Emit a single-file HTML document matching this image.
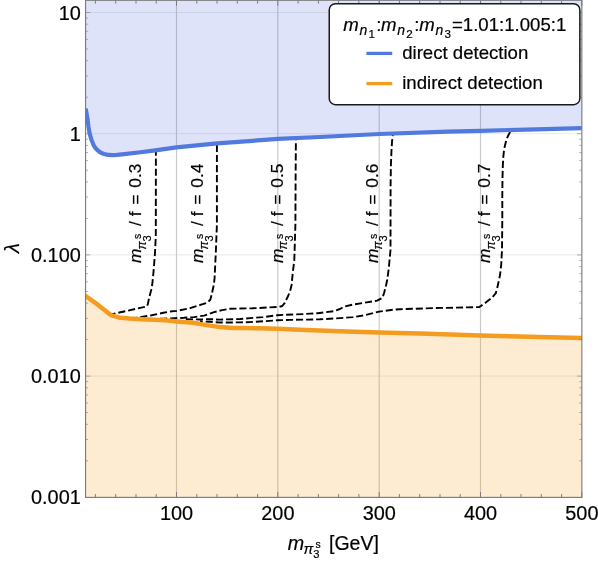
<!DOCTYPE html>
<html><head><meta charset="utf-8"><title>plot</title>
<style>html,body{margin:0;padding:0;background:#fff;}body{width:598px;height:564px;overflow:hidden;font-family:"Liberation Sans",sans-serif;}</style>
</head><body>
<svg width="598" height="564" viewBox="0 0 598 564" style="display:block;will-change:transform;transform:translateZ(0)">
<rect width="598" height="564" fill="#fff"/>
<defs><clipPath id="cp"><rect x="85.55" y="0.3" width="496.30" height="497.10"/></clipPath></defs>
<g clip-path="url(#cp)">
<line x1="85.55" x2="581.85" y1="12.5" y2="12.5" stroke="#e9e9e9" stroke-width="1"/>
<line x1="85.55" x2="581.85" y1="133.7" y2="133.7" stroke="#e9e9e9" stroke-width="1"/>
<line x1="85.55" x2="581.85" y1="254.9" y2="254.9" stroke="#e9e9e9" stroke-width="1"/>
<line x1="85.55" x2="581.85" y1="376.1" y2="376.1" stroke="#e9e9e9" stroke-width="1"/>
<line x1="176.5" x2="176.5" y1="0.3" y2="497.4" stroke="#c9c9c9" stroke-width="1.2"/>
<line x1="277.8" x2="277.8" y1="0.3" y2="497.4" stroke="#c9c9c9" stroke-width="1.2"/>
<line x1="379.2" x2="379.2" y1="0.3" y2="497.4" stroke="#c9c9c9" stroke-width="1.2"/>
<line x1="480.5" x2="480.5" y1="0.3" y2="497.4" stroke="#c9c9c9" stroke-width="1.2"/>
<path d="M85.7,108.7 L87.5,118.9 L88.5,126.8 L89.7,133.8 L91.4,139.7 L93.9,145.7 L95.3,147.8 L96.9,149.7 L99.2,151.6 L101.9,153.2 L104.2,154.0 L106.8,154.6 L111.8,155.2 L116.8,154.9 L122.0,154.4 L138.5,152.5 L155.3,150.3 L176.4,147.4 L217.2,143.4 L277.9,138.9 L320.0,137.0 L379.7,134.0 L448.0,131.7 L480.6,130.8 L582.9,128.0 L581.85,0.3 L85.55,0.3 Z" fill="#5a73e1" fill-opacity="0.2"/>
<path d="M85.0,295.6 L97.4,304.4 L110.8,315.1 L118.8,317.4 L129.5,318.6 L141.5,319.3 L155.0,319.8 L165.0,320.3 L176.8,321.4 L193.4,322.7 L206.8,325.1 L220.1,327.1 L233.5,328.0 L245.0,328.1 L260.0,328.2 L277.4,328.8 L300.1,329.8 L320.0,330.6 L340.0,331.3 L379.5,332.5 L420.0,333.6 L480.3,335.5 L582.9,338.0 L581.85,497.4 L85.55,497.4 Z" fill="#f39c1f" fill-opacity="0.2"/>
<path d="M155.9,151.5 L155.8,236.0 L154.9,254.5 L153.5,272.0 L152.2,285.0 L151.2,290.0 L149.1,298.0 L147.9,303.8 L147.0,306.4 L128.1,310.6 L112.0,314.1" fill="none" stroke="#000" stroke-width="1.9" stroke-dasharray="7.1 2.95" stroke-dashoffset="2.95" stroke-linejoin="round"/>
<path d="M216.9,144.5 L216.9,225.0 L215.9,250.3 L214.6,278.0 L213.8,285.0 L213.1,288.0 L211.6,295.0 L210.3,299.8 L207.1,302.7 L201.1,304.7 L190.1,308.2 L176.8,310.9 L172.0,311.3 L163.4,312.8 L151.7,315.2 L140.0,317.2 L133.0,318.2" fill="none" stroke="#000" stroke-width="1.9" stroke-dasharray="7.1 2.95" stroke-dashoffset="9.6" stroke-linejoin="round"/>
<path d="M295.9,139.0 L295.6,180.0 L295.4,225.0 L294.3,260.0 L292.7,273.3 L291.6,285.0 L290.1,291.0 L288.1,296.0 L284.6,303.1 L282.3,306.0 L279.1,306.9 L252.5,308.3 L236.0,308.6 L230.0,308.8 L222.2,310.1 L214.1,312.1 L204.1,315.6 L194.1,317.1 L184.0,317.8 L175.0,318.1 L163.4,318.7 L150.0,319.0" fill="none" stroke="#000" stroke-width="1.9" stroke-dasharray="7.1 2.95" stroke-dashoffset="5.75" stroke-linejoin="round"/>
<path d="M392.8,134.5 L392.0,142.0 L391.5,150.0 L390.9,165.0 L390.6,185.0 L390.5,250.0 L388.8,268.0 L387.2,280.0 L386.1,285.0 L384.1,293.0 L382.4,297.8 L377.1,300.6 L353.0,304.6 L344.0,306.6 L340.0,309.0 L333.4,311.2 L318.0,313.2 L310.0,313.6 L304.2,314.1 L285.1,314.8 L277.1,315.3 L263.0,317.1 L250.0,318.1 L240.0,319.0 L220.0,319.6 L210.0,319.2 L200.0,319.5 L185.0,319.2" fill="none" stroke="#000" stroke-width="1.9" stroke-dasharray="7.1 2.95" stroke-dashoffset="5.5" stroke-linejoin="round"/>
<path d="M510.3,131.5 L508.5,135.0 L507.0,138.2 L506.1,141.0 L505.1,145.0 L504.4,148.1 L503.9,151.2 L503.2,158.0 L502.8,166.6 L502.5,177.9 L502.3,195.0 L502.3,220.0 L502.0,250.0 L501.2,264.8 L500.1,274.5 L499.2,279.0 L497.2,288.0 L495.8,293.2 L492.1,297.6 L485.1,303.1 L479.3,307.0 L466.9,307.4 L433.4,308.1 L400.0,309.2 L393.6,309.6 L379.1,311.6 L364.1,315.3 L353.0,317.1 L340.0,318.1 L320.0,319.3 L307.2,319.6 L290.1,319.9 L277.1,320.3 L263.0,321.3 L250.0,322.1 L240.0,322.4 L220.0,322.5 L210.0,321.8 L200.0,321.3" fill="none" stroke="#000" stroke-width="1.9" stroke-dasharray="7.1 2.95" stroke-dashoffset="9.69" stroke-linejoin="round"/>
<path d="M85.7,108.7 L87.5,118.9 L88.5,126.8 L89.7,133.8 L91.4,139.7 L93.9,145.7 L95.3,147.8 L96.9,149.7 L99.2,151.6 L101.9,153.2 L104.2,154.0 L106.8,154.6 L111.8,155.2 L116.8,154.9 L122.0,154.4 L138.5,152.5 L155.3,150.3 L176.4,147.4 L217.2,143.4 L277.9,138.9 L320.0,137.0 L379.7,134.0 L448.0,131.7 L480.6,130.8 L582.9,128.0" fill="none" stroke="#527ade" stroke-width="4.2" stroke-linejoin="round"/>
<path d="M85.0,295.6 L97.4,304.4 L110.8,315.1 L118.8,317.4 L129.5,318.6 L141.5,319.3 L155.0,319.8 L165.0,320.3 L176.8,321.4 L193.4,322.7 L206.8,325.1 L220.1,327.1 L233.5,328.0 L245.0,328.1 L260.0,328.2 L277.4,328.8 L300.1,329.8 L320.0,330.6 L340.0,331.3 L379.5,332.5 L420.0,333.6 L480.3,335.5 L582.9,338.0" fill="none" stroke="#f39c1f" stroke-width="4.5" stroke-linejoin="round"/>
</g>
<path d="M95.4,497.4 v-3.3 M95.4,0.3 v3.3 M115.7,497.4 v-3.3 M115.7,0.3 v3.3 M136.0,497.4 v-3.3 M136.0,0.3 v3.3 M156.2,497.4 v-3.3 M156.2,0.3 v3.3 M176.5,497.4 v-5.5 M176.5,0.3 v5.5 M196.8,497.4 v-3.3 M196.8,0.3 v3.3 M217.0,497.4 v-3.3 M217.0,0.3 v3.3 M237.3,497.4 v-3.3 M237.3,0.3 v3.3 M257.6,497.4 v-3.3 M257.6,0.3 v3.3 M277.8,497.4 v-5.5 M277.8,0.3 v5.5 M298.1,497.4 v-3.3 M298.1,0.3 v3.3 M318.4,497.4 v-3.3 M318.4,0.3 v3.3 M338.6,497.4 v-3.3 M338.6,0.3 v3.3 M358.9,497.4 v-3.3 M358.9,0.3 v3.3 M379.2,497.4 v-5.5 M379.2,0.3 v5.5 M399.4,497.4 v-3.3 M399.4,0.3 v3.3 M419.7,497.4 v-3.3 M419.7,0.3 v3.3 M440.0,497.4 v-3.3 M440.0,0.3 v3.3 M460.2,497.4 v-3.3 M460.2,0.3 v3.3 M480.5,497.4 v-5.5 M480.5,0.3 v5.5 M500.8,497.4 v-3.3 M500.8,0.3 v3.3 M521.0,497.4 v-3.3 M521.0,0.3 v3.3 M541.3,497.4 v-3.3 M541.3,0.3 v3.3 M561.6,497.4 v-3.3 M561.6,0.3 v3.3 M581.8,497.4 v-5.5 M581.8,0.3 v5.5" stroke="#7c7c7c" stroke-width="1" fill="none"/>
<path d="M85.55,460.8 h2.6 M581.85,460.8 h-2.6 M85.55,439.5 h2.6 M581.85,439.5 h-2.6 M85.55,424.3 h2.6 M581.85,424.3 h-2.6 M85.55,412.6 h2.6 M581.85,412.6 h-2.6 M85.55,403.0 h2.6 M581.85,403.0 h-2.6 M85.55,394.9 h2.6 M581.85,394.9 h-2.6 M85.55,387.8 h2.6 M581.85,387.8 h-2.6 M85.55,381.6 h2.6 M581.85,381.6 h-2.6 M85.55,376.1 h4.8 M581.85,376.1 h-4.8 M85.55,339.6 h2.6 M581.85,339.6 h-2.6 M85.55,318.3 h2.6 M581.85,318.3 h-2.6 M85.55,303.1 h2.6 M581.85,303.1 h-2.6 M85.55,291.4 h2.6 M581.85,291.4 h-2.6 M85.55,281.8 h2.6 M581.85,281.8 h-2.6 M85.55,273.7 h2.6 M581.85,273.7 h-2.6 M85.55,266.6 h2.6 M581.85,266.6 h-2.6 M85.55,260.4 h2.6 M581.85,260.4 h-2.6 M85.55,254.9 h4.8 M581.85,254.9 h-4.8 M85.55,218.4 h2.6 M581.85,218.4 h-2.6 M85.55,197.1 h2.6 M581.85,197.1 h-2.6 M85.55,181.9 h2.6 M581.85,181.9 h-2.6 M85.55,170.2 h2.6 M581.85,170.2 h-2.6 M85.55,160.6 h2.6 M581.85,160.6 h-2.6 M85.55,152.5 h2.6 M581.85,152.5 h-2.6 M85.55,145.4 h2.6 M581.85,145.4 h-2.6 M85.55,139.2 h2.6 M581.85,139.2 h-2.6 M85.55,133.7 h4.8 M581.85,133.7 h-4.8 M85.55,97.2 h2.6 M581.85,97.2 h-2.6 M85.55,75.9 h2.6 M581.85,75.9 h-2.6 M85.55,60.7 h2.6 M581.85,60.7 h-2.6 M85.55,49.0 h2.6 M581.85,49.0 h-2.6 M85.55,39.4 h2.6 M581.85,39.4 h-2.6 M85.55,31.3 h2.6 M581.85,31.3 h-2.6 M85.55,24.2 h2.6 M581.85,24.2 h-2.6 M85.55,18.0 h2.6 M581.85,18.0 h-2.6 M85.55,12.5 h4.8 M581.85,12.5 h-4.8" stroke="#7c7c7c" stroke-opacity="0.6" stroke-width="1" fill="none"/>
<rect x="85.55" y="0.3" width="496.30" height="497.10" fill="none" stroke="#7c7c7c" stroke-width="1.15"/>
<text x="176.6" y="519.9" font-family="Liberation Sans, sans-serif" font-size="19.9" fill="#000" stroke="#000" stroke-width="0.2" text-anchor="middle">100</text>
<text x="277.9" y="519.9" font-family="Liberation Sans, sans-serif" font-size="19.9" fill="#000" stroke="#000" stroke-width="0.2" text-anchor="middle">200</text>
<text x="379.3" y="519.9" font-family="Liberation Sans, sans-serif" font-size="19.9" fill="#000" stroke="#000" stroke-width="0.2" text-anchor="middle">300</text>
<text x="480.6" y="519.9" font-family="Liberation Sans, sans-serif" font-size="19.9" fill="#000" stroke="#000" stroke-width="0.2" text-anchor="middle">400</text>
<text x="581.9" y="519.9" font-family="Liberation Sans, sans-serif" font-size="19.9" fill="#000" stroke="#000" stroke-width="0.2" text-anchor="middle">500</text>
<text x="80.8" y="19.5" font-family="Liberation Sans, sans-serif" font-size="19.9" fill="#000" stroke="#000" stroke-width="0.2" text-anchor="end">10</text>
<text x="80.8" y="140.7" font-family="Liberation Sans, sans-serif" font-size="19.9" fill="#000" stroke="#000" stroke-width="0.2" text-anchor="end">1</text>
<text x="80.8" y="261.9" font-family="Liberation Sans, sans-serif" font-size="19.9" fill="#000" stroke="#000" stroke-width="0.2" text-anchor="end">0.100</text>
<text x="80.8" y="383.1" font-family="Liberation Sans, sans-serif" font-size="19.9" fill="#000" stroke="#000" stroke-width="0.2" text-anchor="end">0.010</text>
<text x="80.8" y="504.3" font-family="Liberation Sans, sans-serif" font-size="19.9" fill="#000" stroke="#000" stroke-width="0.2" text-anchor="end">0.001</text>
<g>
<text x="287.8" y="550.4" font-family="Liberation Sans, sans-serif" font-size="19.7" fill="#000" stroke="#000" stroke-width="0.2" font-style="italic">m</text>
<text x="303.5" y="553.9" font-family="Liberation Sans, sans-serif" font-size="14.7" fill="#000" stroke="#000" stroke-width="0.2" font-style="italic">π</text>
<text x="315.5" y="547.9" font-family="Liberation Sans, sans-serif" font-size="10.4" fill="#000" stroke="#000" stroke-width="0.2" >s</text>
<text x="313.3" y="558.0" font-family="Liberation Sans, sans-serif" font-size="11.2" fill="#000" stroke="#000" stroke-width="0.2" >3</text>
<text x="329.0" y="550.4" font-family="Liberation Sans, sans-serif" font-size="19.5" fill="#000" stroke="#000" stroke-width="0.2" >[GeV]</text>
</g>
<text transform="translate(19.1,248.2) rotate(-90)" font-family="Liberation Sans, sans-serif" font-size="20" font-style="italic" text-anchor="middle" fill="#000" stroke="#000" stroke-width="0.2">λ</text>
<g transform="translate(141.4,263.2) rotate(-90)">
<text x="0.3" y="0" font-family="Liberation Sans, sans-serif" font-size="17.3" fill="#000" stroke="#000" stroke-width="0.2" font-style="italic">m</text>
<text x="13.7" y="4.2" font-family="Liberation Sans, sans-serif" font-size="12.3" fill="#000" stroke="#000" stroke-width="0.2" font-style="italic">π</text>
<text x="24.1" y="-0.4" font-family="Liberation Sans, sans-serif" font-size="10.4" fill="#000" stroke="#000" stroke-width="0.2" >s</text>
<text x="21.8" y="9.5" font-family="Liberation Sans, sans-serif" font-size="11.2" fill="#000" stroke="#000" stroke-width="0.2" >3</text>
<text x="37.3" y="0" font-family="Liberation Sans, sans-serif" font-size="17.3" fill="#000" stroke="#000" stroke-width="0.2" >/</text>
<text x="47.0" y="0" font-family="Liberation Sans, sans-serif" font-size="17.3" fill="#000" stroke="#000" stroke-width="0.2" >f</text>
<text x="58.7" y="0" font-family="Liberation Sans, sans-serif" font-size="17.3" fill="#000" stroke="#000" stroke-width="0.2" >=</text>
<text x="75.5" y="0" font-family="Liberation Sans, sans-serif" font-size="17.3" fill="#000" stroke="#000" stroke-width="0.2" >0.3</text>
</g>
<g transform="translate(203.4,263.2) rotate(-90)">
<text x="0.3" y="0" font-family="Liberation Sans, sans-serif" font-size="17.3" fill="#000" stroke="#000" stroke-width="0.2" font-style="italic">m</text>
<text x="13.7" y="4.2" font-family="Liberation Sans, sans-serif" font-size="12.3" fill="#000" stroke="#000" stroke-width="0.2" font-style="italic">π</text>
<text x="24.1" y="-0.4" font-family="Liberation Sans, sans-serif" font-size="10.4" fill="#000" stroke="#000" stroke-width="0.2" >s</text>
<text x="21.8" y="9.5" font-family="Liberation Sans, sans-serif" font-size="11.2" fill="#000" stroke="#000" stroke-width="0.2" >3</text>
<text x="37.3" y="0" font-family="Liberation Sans, sans-serif" font-size="17.3" fill="#000" stroke="#000" stroke-width="0.2" >/</text>
<text x="47.0" y="0" font-family="Liberation Sans, sans-serif" font-size="17.3" fill="#000" stroke="#000" stroke-width="0.2" >f</text>
<text x="58.7" y="0" font-family="Liberation Sans, sans-serif" font-size="17.3" fill="#000" stroke="#000" stroke-width="0.2" >=</text>
<text x="75.5" y="0" font-family="Liberation Sans, sans-serif" font-size="17.3" fill="#000" stroke="#000" stroke-width="0.2" >0.4</text>
</g>
<g transform="translate(283.0,263.2) rotate(-90)">
<text x="0.3" y="0" font-family="Liberation Sans, sans-serif" font-size="17.3" fill="#000" stroke="#000" stroke-width="0.2" font-style="italic">m</text>
<text x="13.7" y="4.2" font-family="Liberation Sans, sans-serif" font-size="12.3" fill="#000" stroke="#000" stroke-width="0.2" font-style="italic">π</text>
<text x="24.1" y="-0.4" font-family="Liberation Sans, sans-serif" font-size="10.4" fill="#000" stroke="#000" stroke-width="0.2" >s</text>
<text x="21.8" y="9.5" font-family="Liberation Sans, sans-serif" font-size="11.2" fill="#000" stroke="#000" stroke-width="0.2" >3</text>
<text x="37.3" y="0" font-family="Liberation Sans, sans-serif" font-size="17.3" fill="#000" stroke="#000" stroke-width="0.2" >/</text>
<text x="47.0" y="0" font-family="Liberation Sans, sans-serif" font-size="17.3" fill="#000" stroke="#000" stroke-width="0.2" >f</text>
<text x="58.7" y="0" font-family="Liberation Sans, sans-serif" font-size="17.3" fill="#000" stroke="#000" stroke-width="0.2" >=</text>
<text x="75.5" y="0" font-family="Liberation Sans, sans-serif" font-size="17.3" fill="#000" stroke="#000" stroke-width="0.2" >0.5</text>
</g>
<g transform="translate(377.7,263.2) rotate(-90)">
<text x="0.3" y="0" font-family="Liberation Sans, sans-serif" font-size="17.3" fill="#000" stroke="#000" stroke-width="0.2" font-style="italic">m</text>
<text x="13.7" y="4.2" font-family="Liberation Sans, sans-serif" font-size="12.3" fill="#000" stroke="#000" stroke-width="0.2" font-style="italic">π</text>
<text x="24.1" y="-0.4" font-family="Liberation Sans, sans-serif" font-size="10.4" fill="#000" stroke="#000" stroke-width="0.2" >s</text>
<text x="21.8" y="9.5" font-family="Liberation Sans, sans-serif" font-size="11.2" fill="#000" stroke="#000" stroke-width="0.2" >3</text>
<text x="37.3" y="0" font-family="Liberation Sans, sans-serif" font-size="17.3" fill="#000" stroke="#000" stroke-width="0.2" >/</text>
<text x="47.0" y="0" font-family="Liberation Sans, sans-serif" font-size="17.3" fill="#000" stroke="#000" stroke-width="0.2" >f</text>
<text x="58.7" y="0" font-family="Liberation Sans, sans-serif" font-size="17.3" fill="#000" stroke="#000" stroke-width="0.2" >=</text>
<text x="75.5" y="0" font-family="Liberation Sans, sans-serif" font-size="17.3" fill="#000" stroke="#000" stroke-width="0.2" >0.6</text>
</g>
<g transform="translate(490.3,263.2) rotate(-90)">
<text x="0.3" y="0" font-family="Liberation Sans, sans-serif" font-size="17.3" fill="#000" stroke="#000" stroke-width="0.2" font-style="italic">m</text>
<text x="13.7" y="4.2" font-family="Liberation Sans, sans-serif" font-size="12.3" fill="#000" stroke="#000" stroke-width="0.2" font-style="italic">π</text>
<text x="24.1" y="-0.4" font-family="Liberation Sans, sans-serif" font-size="10.4" fill="#000" stroke="#000" stroke-width="0.2" >s</text>
<text x="21.8" y="9.5" font-family="Liberation Sans, sans-serif" font-size="11.2" fill="#000" stroke="#000" stroke-width="0.2" >3</text>
<text x="37.3" y="0" font-family="Liberation Sans, sans-serif" font-size="17.3" fill="#000" stroke="#000" stroke-width="0.2" >/</text>
<text x="47.0" y="0" font-family="Liberation Sans, sans-serif" font-size="17.3" fill="#000" stroke="#000" stroke-width="0.2" >f</text>
<text x="58.7" y="0" font-family="Liberation Sans, sans-serif" font-size="17.3" fill="#000" stroke="#000" stroke-width="0.2" >=</text>
<text x="75.5" y="0" font-family="Liberation Sans, sans-serif" font-size="17.3" fill="#000" stroke="#000" stroke-width="0.2" >0.7</text>
</g>
<rect x="329.25" y="3.75" width="250.6" height="100.9" rx="6.2" ry="6.2" fill="#fff" stroke="#1a1a1a" stroke-width="1.5"/>
<text x="343.3" y="31.1" font-family="Liberation Sans, sans-serif" font-size="18.6" fill="#000" stroke="#000" stroke-width="0.2" font-style="italic">m</text>
<text x="359.6" y="35.1" font-family="Liberation Sans, sans-serif" font-size="14.0" fill="#000" stroke="#000" stroke-width="0.2" font-style="italic">n</text>
<text x="368.4" y="37.6" font-family="Liberation Sans, sans-serif" font-size="11.6" fill="#000" stroke="#000" stroke-width="0.2" >1</text>
<text x="376.3" y="31.1" font-family="Liberation Sans, sans-serif" font-size="18.6" fill="#000" stroke="#000" stroke-width="0.2" >:</text>
<text x="381.0" y="31.1" font-family="Liberation Sans, sans-serif" font-size="18.6" fill="#000" stroke="#000" stroke-width="0.2" font-style="italic">m</text>
<text x="397.3" y="35.1" font-family="Liberation Sans, sans-serif" font-size="14.0" fill="#000" stroke="#000" stroke-width="0.2" font-style="italic">n</text>
<text x="406.2" y="37.6" font-family="Liberation Sans, sans-serif" font-size="11.6" fill="#000" stroke="#000" stroke-width="0.2" >2</text>
<text x="414.3" y="31.1" font-family="Liberation Sans, sans-serif" font-size="18.6" fill="#000" stroke="#000" stroke-width="0.2" >:</text>
<text x="419.2" y="31.1" font-family="Liberation Sans, sans-serif" font-size="18.6" fill="#000" stroke="#000" stroke-width="0.2" font-style="italic">m</text>
<text x="435.4" y="35.1" font-family="Liberation Sans, sans-serif" font-size="14.0" fill="#000" stroke="#000" stroke-width="0.2" font-style="italic">n</text>
<text x="444.4" y="37.6" font-family="Liberation Sans, sans-serif" font-size="11.6" fill="#000" stroke="#000" stroke-width="0.2" >3</text>
<text x="452.0" y="31.1" font-family="Liberation Sans, sans-serif" font-size="18.6" fill="#000" stroke="#000" stroke-width="0.2" >=1.01:1.005:1</text>
<line x1="366.4" x2="392.2" y1="53.4" y2="53.4" stroke="#527ade" stroke-width="3.3"/>
<line x1="366.4" x2="392.2" y1="83.6" y2="83.6" stroke="#f39c1f" stroke-width="3.3"/>
<text x="402.2" y="59.3" font-family="Liberation Sans, sans-serif" font-size="18.6" fill="#000" stroke="#000" stroke-width="0.2" >direct detection</text>
<text x="402.2" y="88.9" font-family="Liberation Sans, sans-serif" font-size="18.6" fill="#000" stroke="#000" stroke-width="0.2" >indirect detection</text>
</svg>
</body></html>
